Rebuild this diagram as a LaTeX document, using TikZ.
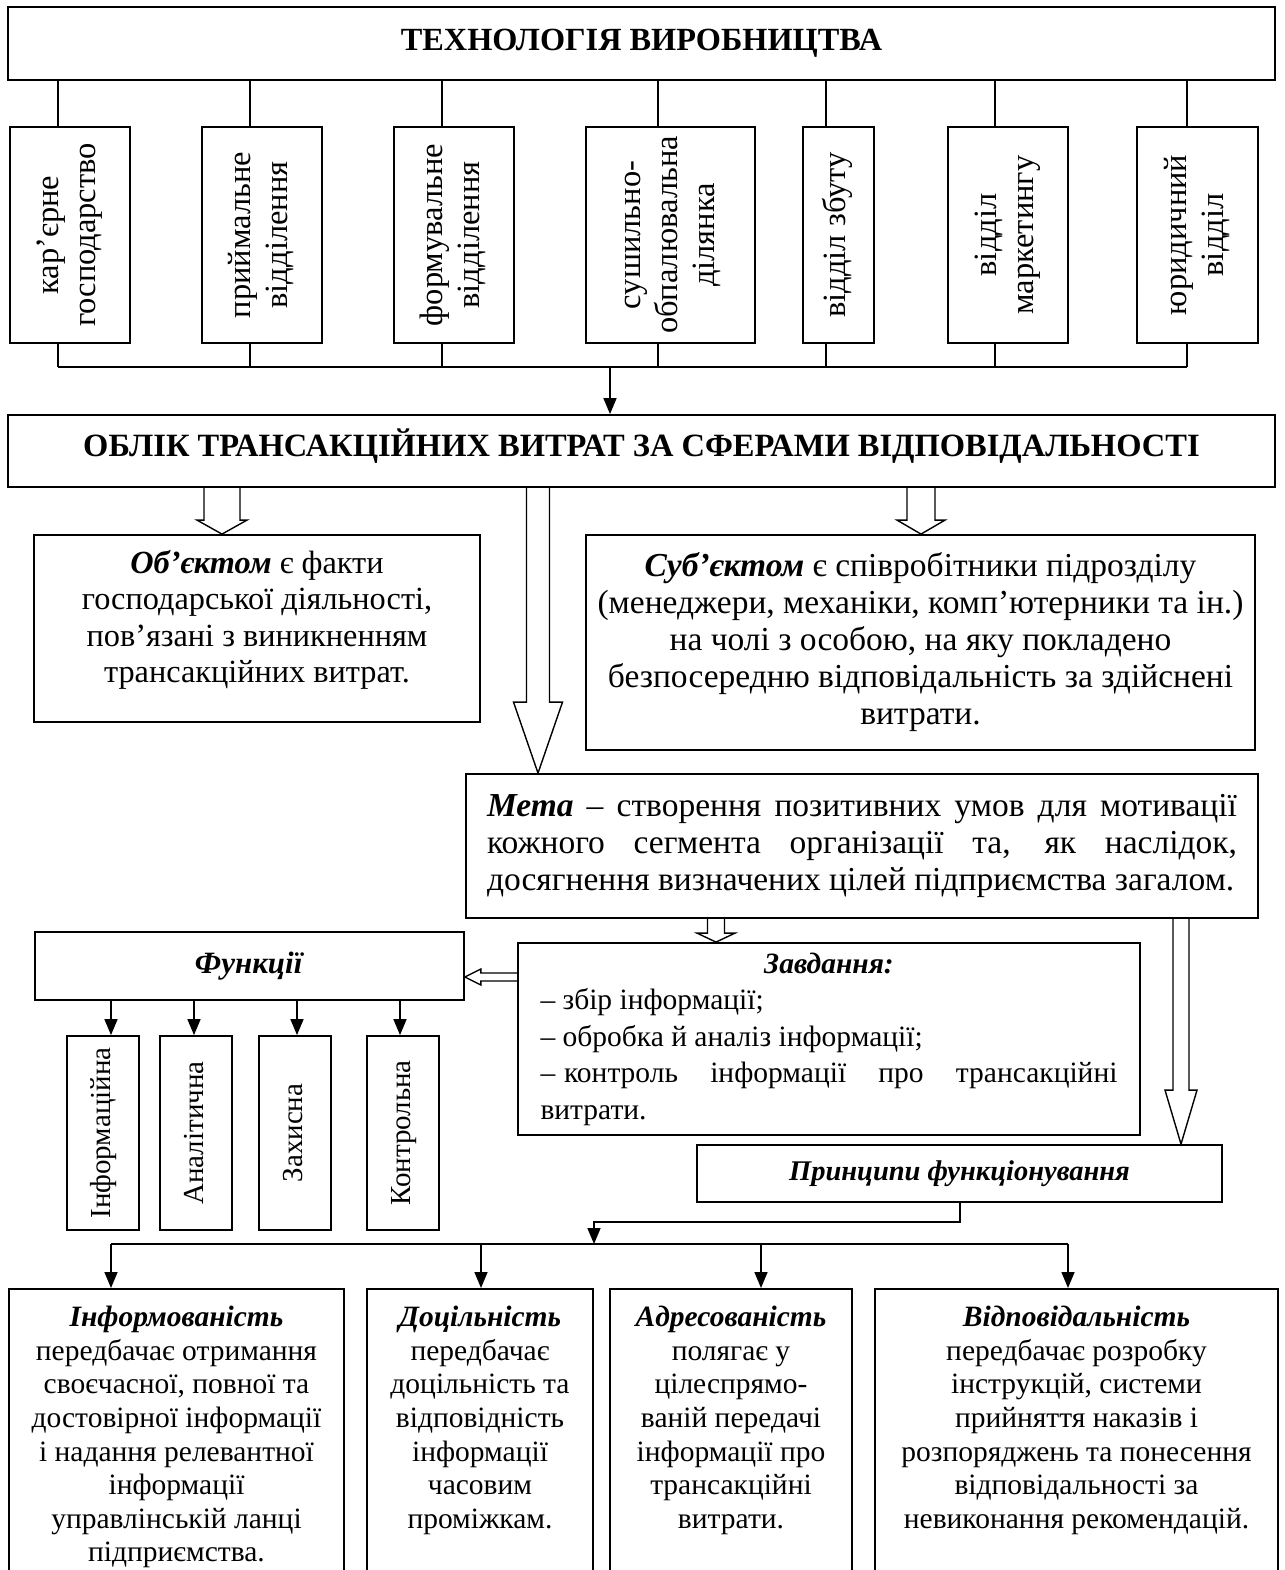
\documentclass[tikz,border=0pt]{standalone}
\usepackage{fontspec}
\usepackage{graphicx}
\setmainfont{Liberation Serif}
\usetikzlibrary{calc}
\usetikzlibrary{positioning}
\usetikzlibrary{arrows.meta}

\newcommand{\vtext}[1]{\rotatebox{90}{\begin{tabular}{@{}c@{}}#1\end{tabular}}}
\newcommand{\bi}[1]{\textbf{\textit{#1}}}
\newcommand{\hollowdown}[6]{% 空心箭头: 从 #1 到 #2, x=#3
    \coordinate (ha) at (#1.south -| #3,0);
    \coordinate (hb) at (#2.north -| #3,0);
    \draw[hollow] ($(ha)+(-#4,0)$) -- ($(hb)+(-#4,-#6)$) -- ($(hb)+(-#5,-#6)$) -- (hb)
        -- ($(hb)+(#5,-#6)$) -- ($(hb)+(#4,-#6)$) -- ($(ha)+(#4,0)$);
}

\tikzset{
    box/.style={
        draw,              % 边框
        line width=1.8pt,
        inner sep=0pt,
        font=\fontsize{31}{36}\selectfont
    },
    dept/.style={
        box,
        minimum height=216pt,
        font=\fontsize{32.5}{37}\selectfont
    },
    fbox/.style={
        box,
        minimum width=72pt,
        minimum height=194pt,
        font=\fontsize{29}{36}\selectfont
    },
    btext/.style={
        inner sep=0pt,
        align=center,
        font=\fontsize{29.5}{33.6}\selectfont
    },
    link/.style={line width=1.6pt},
    arr/.style={-{Triangle[length=16pt,width=13pt]}},
    hollow/.style={line width=1.4pt, line join=miter}
}

\begin{document}
\begin{tikzpicture}[x=1pt, y=-1pt]
\useasboundingbox (0,0) rectangle (1284,1570);
\clip (0,0) rectangle (1284,1570);

% 顶部
\node[box, minimum width=1267pt, minimum height=73pt, font=\fontsize{32.3}{36}\selectfont\bfseries] (tech) at (641.5,43.5) {ТЕХНОЛОГІЯ ВИРОБНИЦТВА};

\node[dept, minimum width=120pt] (d1) at (70,235) {\vtext{кар’єрне\\господарство}};
\node[dept, minimum width=120pt] (d2) at (262,235) {\vtext{приймальне\\відділення}};
\node[dept, minimum width=120pt] (d3) at (454,235) {\vtext{формувальне\\відділення}};
\node[dept, minimum width=169pt] (d4) at (670.5,235) {\vtext{сушильно-\\обпалювальна\\ділянка}};
\node[dept, minimum width=71pt] (d5) at (838.5,235) {\vtext{відділ збуту}};
\node[dept, minimum width=120pt] (d6) at (1008,235) {\vtext{відділ\\маркетингу}};
\node[dept, minimum width=121pt] (d7) at (1197.5,235) {\vtext{юридичний\\відділ}};

\node[box, minimum width=1267pt, minimum height=72pt, text depth=16pt, font=\fontsize{32.5}{36}\selectfont\bfseries] (oblik) at (641.5,451) {ОБЛІК ТРАНСАКЦІЙНИХ ВИТРАТ ЗА СФЕРАМИ ВІДПОВІДАЛЬНОСТІ};

% 对象与主体
\node[box, minimum width=446pt, minimum height=187pt] (obj) at (257,628.5) {};
\node[align=center, inner sep=0pt, font=\fontsize{32.3}{36.3}\selectfont] (objt) at (257,620)
    {\bi{Об’єктом} є факти\\господарської діяльності,\\пов’язані з виникненням\\трансакційних витрат.};
\node[box, minimum width=669pt, minimum height=215pt, align=center,
      font=\fontsize{33.5}{37}\selectfont] (subj) at (920.5,642.5)
    {\bi{Суб’єктом} є співробітники підрозділу\\(менеджери, механіки, комп’ютерники та ін.)\\на чолі з особою, на яку покладено\\безпосередню відповідальність за здійснені\\витрати.};

\node[box, minimum width=792pt, minimum height=144pt, text width=750pt, align=justify,
      font=\fontsize{33.5}{37}\selectfont] (meta) at (862,846)
    {\bi{Мета} – створення позитивних умов для мотивації\linebreak
     кожного сегмента організації та, як наслідок,\linebreak
     досягнення визначених цілей підприємства загалом.};

% 功能
\node[box, minimum width=429pt, minimum height=68pt] (func) at (249.5,966) {\bi{Функції}};
\node[box, minimum width=622pt, minimum height=192pt, text width=577pt, align=justify,
      font=\fontsize{29.5}{36.5}\selectfont] (zad) at (829,1039)
    {\hspace*{\fill}\bi{Завдання:}\hspace*{\fill}\linebreak
     – збір інформації;\newline
     – обробка й аналіз інформації;\newline
     –\hspace{0.3em}контроль інформації про трансакційні\linebreak
     витрати.};

\node[fbox] (f1) at (103,1133) {\vtext{Інформаційна}};
\node[fbox] (f2) at (196,1133) {\vtext{Аналітична}};
\node[fbox] (f3) at (295,1133) {\vtext{Захисна}};
\node[fbox] (f4) at (403,1133) {\vtext{Контрольна}};

\node[box, minimum width=525pt, minimum height=57pt, font=\fontsize{28.5}{34}\selectfont] (prin) at (959.5,1173.5) {\bi{Принципи функціонування}};

% 原则
\node[box, minimum width=335pt, minimum height=320pt, anchor=north] (b1) at (176.5,1288) {};
\node[box, minimum width=226pt, minimum height=320pt, anchor=north] (b2) at (480,1288) {};
\node[box, minimum width=242pt, minimum height=320pt, anchor=north] (b3) at (731,1288) {};
\node[box, minimum width=403pt, minimum height=320pt, anchor=north] (b4) at (1076.5,1288) {};

\node[btext, below=18pt of b1.north] (b1t) {\bi{Інформованість}\\передбачає отримання\\своєчасної, повної та\\достовірної інформації\\і надання релевантної\\інформації\\управлінській ланці\\підприємства.};
\node[btext, below=18pt of b2.north] (b2t) {\bi{Доцільність}\\передбачає\\доцільність та\\відповідність\\інформації\\часовим\\проміжкам.};
\node[btext, below=18pt of b3.north] (b3t) {\bi{Адресованість}\\полягає у\\цілеспрямо-\\ваній передачі\\інформації про\\трансакційні\\витрати.};
\node[btext, below=18pt of b4.north] (b4t) {\bi{Відповідальність}\\передбачає розробку\\інструкцій, системи\\прийняття наказів і\\розпоряджень та понесення\\відповідальності за\\невиконання рекомендацій.};

% 连线
\foreach \n/\cx in {d1/58,d2/250,d3/442,d4/658,d5/826,d6/995,d7/1187}{
    \draw[link] (tech.south -| \cx,0) -- (\n.north -| \cx,0);
    \draw[link] (\n.south -| \cx,0) -- (\cx,367);
}
\coordinate (busL) at (58,367);
\coordinate (busR) at (1187,367);
\draw[link] (busL) -- (busR);
\draw[link, arr] (busL -| 610,0) -- (oblik.north -| 610,0);

\hollowdown{oblik}{obj}{222}{18}{25}{14}
\hollowdown{oblik}{meta}{538}{11.5}{24.5}{71}
\hollowdown{oblik}{subj}{921}{14}{24}{14}
\hollowdown{meta}{zad}{716}{8.5}{19}{9}
\hollowdown{meta}{prin}{1181}{8}{16}{54}

\coordinate (fa) at (zad.west |- 0,977);
\coordinate (fb) at (func.east |- 0,977);
\draw[hollow] ($(fa)+(0,-4)$) -- ($(fb)+(16,-4)$) -- ($(fb)+(16,-8)$) -- (fb)
    -- ($(fb)+(16,8)$) -- ($(fb)+(16,4)$) -- ($(fa)+(0,4)$);

\foreach \n/\cx in {f1/111,f2/194,f3/297,f4/400}
    \draw[link, arr] (func.south -| \cx,0) -- (\n.north -| \cx,0);

\coordinate (bus2L) at (111,1244);
\coordinate (bus2R) at (1068,1244);
\draw[link] (bus2L) -- (bus2R);
\draw[link, arr] (prin.south -| 960,0) -- (960,1222) -| (bus2L -| 594,0);
\foreach \n/\cx in {b1/111,b2/481,b3/761,b4/1068}
    \draw[link, arr] (bus2L -| \cx,0) -- (\n.north -| \cx,0);

\end{tikzpicture}
\end{document}
